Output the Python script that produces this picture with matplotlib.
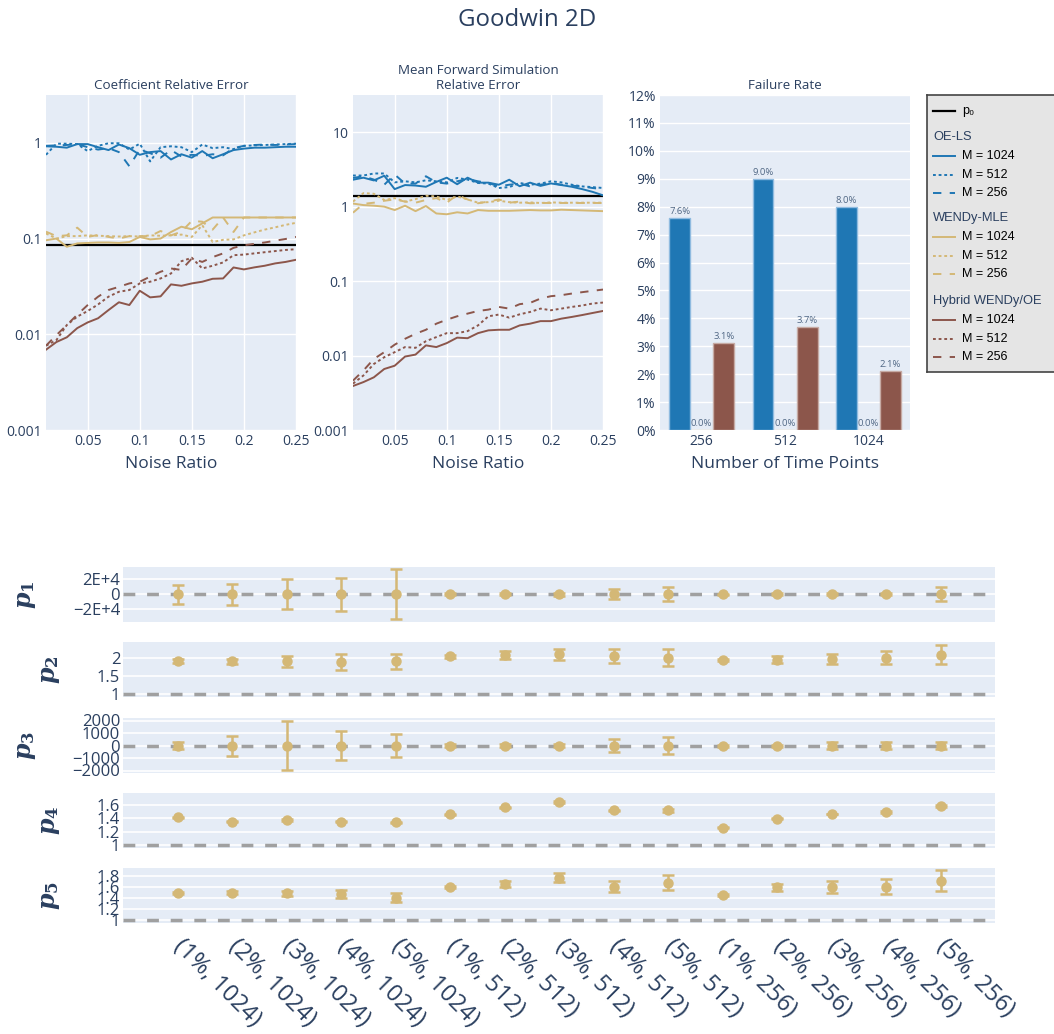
import matplotlib.pyplot as plt
import numpy as np
from matplotlib.ticker import NullLocator

plt.rcParams['font.family'] = ['Open Sans', 'DejaVu Sans']
plt.rcParams['mathtext.fontset'] = 'dejavuserif'

BG = '#e5ecf6'
TXT = '#2a3f5f'
BLUE = '#1f77b4'
GOLD = '#d4b876'
BROWN = '#8c564b'

noise = [0.01, 0.02, 0.03, 0.04, 0.05, 0.06, 0.07, 0.08, 0.09, 0.10, 0.11, 0.12, 0.13,
         0.14, 0.15, 0.16, 0.17, 0.18, 0.19, 0.20, 0.21, 0.22, 0.23, 0.24, 0.25]

# coefficient relative error
oe_coef_1024 = [0.92, 0.91, 0.89, 0.97, 0.97, 0.90, 0.84, 0.96, 0.88, 0.75, 0.80, 0.82, 0.67,
                0.76, 0.70, 0.82, 0.69, 0.76, 0.84, 0.87, 0.89, 0.89, 0.90, 0.91, 0.91]
oe_coef_512 = [0.75, 0.98, 0.98, 0.97, 0.82, 0.93, 0.99, 0.99, 0.85, 0.98, 0.64, 0.90, 0.92,
               0.90, 0.80, 0.96, 0.88, 0.90, 0.86, 0.93, 0.94, 0.95, 0.96, 0.97, 0.98]
oe_coef_256 = [0.93, 0.94, 0.95, 0.97, 0.90, 0.85, 0.88, 0.80, 0.57, 0.85, 0.78, 0.70, 0.84,
               0.72, 0.75, 0.73, 0.76, 0.74, 0.88, 0.93, 0.95, 0.96, 0.95, 0.96, 0.97]
wendy_coef_1024 = [0.096, 0.100, 0.082, 0.089, 0.090, 0.091, 0.091, 0.090, 0.092, 0.104, 0.098, 0.100, 0.117,
                   0.133, 0.125, 0.144, 0.166, 0.166, 0.166, 0.166, 0.166, 0.166, 0.166, 0.166, 0.166]
wendy_coef_512 = [0.113, 0.100, 0.106, 0.106, 0.108, 0.107, 0.106, 0.105, 0.106, 0.105, 0.108, 0.107, 0.108,
                  0.110, 0.104, 0.138, 0.092, 0.097, 0.098, 0.108, 0.116, 0.124, 0.131, 0.139, 0.146]
wendy_coef_256 = [0.118, 0.106, 0.108, 0.130, 0.104, 0.109, 0.104, 0.100, 0.106, 0.106, 0.106, 0.120, 0.108,
                  0.118, 0.153, 0.150, 0.124, 0.166, 0.117, 0.166, 0.166, 0.166, 0.166, 0.166, 0.166]
hyb_coef_1024 = [0.0069, 0.0083, 0.0093, 0.0116, 0.0133, 0.0147, 0.0179, 0.0216, 0.0202, 0.0285, 0.0243, 0.0249, 0.0332,
                 0.0321, 0.0340, 0.0354, 0.0380, 0.0383, 0.0499, 0.0476, 0.0500, 0.0520, 0.0550, 0.0570, 0.0600]
hyb_coef_512 = [0.0076, 0.0087, 0.0125, 0.0153, 0.0175, 0.0205, 0.0247, 0.0278, 0.0290, 0.0340, 0.0354, 0.0383, 0.0432,
                0.0580, 0.0630, 0.0487, 0.0520, 0.0563, 0.0670, 0.0680, 0.0700, 0.0720, 0.0740, 0.0760, 0.0774]
hyb_coef_256 = [0.0076, 0.0098, 0.0125, 0.0160, 0.0202, 0.0247, 0.0290, 0.0313, 0.0340, 0.0354, 0.0400, 0.0450, 0.0487,
                0.0470, 0.0620, 0.0570, 0.0640, 0.0700, 0.0800, 0.0850, 0.0880, 0.0910, 0.0950, 0.0990, 0.1040]
p0_coef = 0.085

# mean forward simulation relative error
oe_fwd_1024 = [2.30, 2.45, 2.25, 2.60, 1.72, 1.95, 1.92, 1.85, 2.15, 2.45, 2.00, 2.45, 2.10,
               2.10, 1.97, 2.30, 1.88, 2.10, 1.90, 2.05, 1.95, 1.85, 1.72, 1.58, 1.42]
oe_fwd_512 = [2.62, 2.62, 2.79, 2.79, 2.12, 2.19, 2.12, 2.26, 2.19, 2.12, 2.43, 2.31, 2.08,
              2.04, 1.78, 1.83, 2.08, 1.97, 2.04, 2.19, 2.12, 1.97, 1.87, 1.83, 1.78]
oe_fwd_256 = [2.43, 2.56, 2.31, 1.97, 2.70, 2.04, 2.04, 2.56, 2.12, 2.04, 2.19, 2.35, 2.19,
              2.08, 1.87, 1.97, 2.04, 1.87, 1.97, 2.08, 1.97, 1.91, 1.87, 1.78, 1.72]
wendy_fwd_1024 = [1.10, 1.05, 1.03, 1.00, 0.90, 1.03, 0.87, 1.02, 0.81, 0.79, 0.84, 0.81, 0.90,
                  0.88, 0.88, 0.88, 0.89, 0.90, 0.89, 0.89, 0.91, 0.90, 0.89, 0.88, 0.87]
wendy_fwd_512 = [1.17, 1.52, 1.49, 1.23, 1.30, 1.17, 1.26, 1.40, 1.37, 1.23, 1.37, 1.25, 1.13,
                 1.15, 1.20, 1.15, 1.13, 1.14, 1.12, 1.14, 1.13, 1.13, 1.13, 1.13, 1.13]
wendy_fwd_256 = [0.83, 1.09, 1.13, 1.20, 1.25, 1.17, 1.13, 1.23, 1.30, 1.13, 1.44, 1.25, 1.11,
                 1.17, 1.25, 1.13, 1.17, 1.11, 1.12, 1.12, 1.12, 1.12, 1.12, 1.12, 1.12]
hyb_fwd_1024 = [0.0039, 0.0044, 0.0051, 0.0066, 0.0073, 0.0097, 0.0103, 0.0137, 0.0130, 0.0147, 0.0174, 0.0171, 0.0200,
                0.0218, 0.0222, 0.0222, 0.0254, 0.0268, 0.0290, 0.0290, 0.0313, 0.0330, 0.0350, 0.0373, 0.0397]
hyb_fwd_512 = [0.0042, 0.0054, 0.0077, 0.0095, 0.0111, 0.0130, 0.0127, 0.0156, 0.0177, 0.0200, 0.0200, 0.0213, 0.0254,
               0.0337, 0.0355, 0.0323, 0.0358, 0.0385, 0.0427, 0.0406, 0.0427, 0.0450, 0.0470, 0.0500, 0.0515]
hyb_fwd_256 = [0.0046, 0.0063, 0.0090, 0.0111, 0.0140, 0.0168, 0.0196, 0.0222, 0.0268, 0.0303, 0.0337, 0.0366, 0.0397,
               0.0414, 0.0450, 0.0427, 0.0490, 0.0510, 0.0583, 0.0627, 0.0647, 0.0680, 0.0710, 0.0740, 0.0770]
p0_fwd = 1.37

# failure rate (%)
time_points = ['256', '512', '1024']
fail_oe = [7.6, 9.0, 8.0]
fail_wendy = [0.0, 0.0, 0.0]
fail_hybrid = [3.1, 3.7, 2.1]

# parameter estimates (WENDy-MLE), (noise, M)
cases = ['(1%, 1024)', '(2%, 1024)', '(3%, 1024)', '(4%, 1024)', '(5%, 1024)',
         '(1%, 512)', '(2%, 512)', '(3%, 512)', '(4%, 512)', '(5%, 512)',
         '(1%, 256)', '(2%, 256)', '(3%, 256)', '(4%, 256)', '(5%, 256)']
p_true = [0, 1, 0, 1, 1]
p1_mean = [0, 0, 0, 0, 0, 0, 0, 0, 0, 0, 0, 0, 0, 0, 0]
p1_err = [12500, 14000, 19500, 21800, 33000, 1000, 1000, 2000, 6600, 8900, 800, 1200, 1500, 1500, 9700]
p2_mean = [1.92, 1.90, 1.90, 1.88, 1.90, 2.04, 2.08, 2.10, 2.05, 2.00, 1.95, 1.95, 1.96, 2.00, 2.08]
p2_err = [0.05, 0.08, 0.15, 0.21, 0.21, 0.04, 0.10, 0.15, 0.19, 0.23, 0.03, 0.09, 0.14, 0.18, 0.26]
p3_mean = [0, 0, 0, 0, 0, 0, 0, 0, 0, 0, 0, 0, 0, 0, 0]
p3_err = [250, 800, 1970, 1160, 900, 100, 150, 150, 540, 700, 80, 80, 250, 250, 250]
p4_mean = [1.41, 1.35, 1.37, 1.346, 1.337, 1.454, 1.56, 1.64, 1.517, 1.517, 1.26, 1.39, 1.46, 1.49, 1.58]
p4_err = [0.01, 0.01, 0.01, 0.01, 0.01, 0.01, 0.01, 0.01, 0.01, 0.02, 0.005, 0.005, 0.005, 0.01, 0.02]
p5_mean = [1.49, 1.50, 1.485, 1.48, 1.41, 1.61, 1.655, 1.776, 1.61, 1.685, 1.45, 1.594, 1.61, 1.61, 1.715]
p5_err = [0.02, 0.03, 0.05, 0.075, 0.085, 0.02, 0.055, 0.09, 0.105, 0.135, 0.02, 0.065, 0.11, 0.14, 0.19]

DOT = (0, (1.45, 1.45))
DASH = (0, (4.3, 4.3))


def style(ax, size=10, pad=3):
    ax.set_facecolor(BG)
    for s in ax.spines.values():
        s.set_visible(False)
    ax.set_axisbelow(True)
    ax.tick_params(length=0, labelsize=size, colors=TXT, pad=pad)


fig = plt.figure(figsize=(10.54, 10.34), dpi=100)
W, H = 1054, 1034

fig.text(527 / W, 1 - 20 / H, 'Goodwin 2D', ha='center', va='center', fontsize=17.3, color=TXT)

# ---- top line panels
panels = [
    (46, 'Coefficient Relative Error', 3.16,
     [(oe_coef_1024, BLUE, '-'), (oe_coef_512, BLUE, DOT), (oe_coef_256, BLUE, DASH),
      (wendy_coef_1024, GOLD, '-'), (wendy_coef_512, GOLD, DOT), (wendy_coef_256, GOLD, DASH),
      (hyb_coef_1024, BROWN, '-'), (hyb_coef_512, BROWN, DOT), (hyb_coef_256, BROWN, DASH)],
     p0_coef, [0.001, 0.01, 0.1, 1], ['0.001', '0.01', '0.1', '1']),
    (353, 'Mean Forward Simulation\nRelative Error', 31.6,
     [(oe_fwd_1024, BLUE, '-'), (oe_fwd_512, BLUE, DOT), (oe_fwd_256, BLUE, DASH),
      (wendy_fwd_1024, GOLD, '-'), (wendy_fwd_512, GOLD, DOT), (wendy_fwd_256, GOLD, DASH),
      (hyb_fwd_1024, BROWN, '-'), (hyb_fwd_512, BROWN, DOT), (hyb_fwd_256, BROWN, DASH)],
     p0_fwd, [0.001, 0.01, 0.1, 1, 10], ['0.001', '0.01', '0.1', '1', '10']),
]
for left, title, top, series, p0, yt, ytl in panels:
    ax = fig.add_axes([left / W, 1 - 430 / H, 250 / W, 335 / H])
    style(ax)
    ax.grid(True, color='white', lw=1)
    ax.axhline(p0, color='black', lw=1.6, zorder=2)
    for vals, col, ls in series:
        ax.plot(noise, vals, color=col, ls=ls, lw=1.4, zorder=3)
    ax.set_yscale('log')
    ax.set_ylim(0.001, top)
    ax.set_yticks(yt)
    ax.set_yticklabels(ytl)
    ax.yaxis.set_minor_locator(NullLocator())
    ax.set_xlim(0.01, 0.25)
    ax.set_xticks([0.05, 0.1, 0.15, 0.2, 0.25])
    ax.set_xticklabels(['0.05', '0.1', '0.15', '0.2', '0.25'])
    ax.set_title(title, fontsize=9.6, color=TXT, pad=4, linespacing=1.2)
    ax.set_xlabel('Noise Ratio', fontsize=12.5, color=TXT, labelpad=5)

# ---- failure rate bars
ax3 = fig.add_axes([660 / W, 1 - 430 / H, 250 / W, 335 / H])
style(ax3)
ax3.grid(True, axis='y', color='white', lw=1)
xb = np.arange(len(time_points))
for off, vals, col, ecol in [(-0.265, fail_oe, BLUE, '#8fbbe0'),
                             (0.0, fail_wendy, GOLD, '#eadcb8'),
                             (0.265, fail_hybrid, BROWN, '#c6aaa4')]:
    bars = ax3.bar(xb + off, vals, 0.25, color=col, edgecolor=ecol, lw=1, zorder=3)
    ax3.bar_label(bars, labels=[f'{v:.1f}%' for v in vals], padding=1.5, fontsize=6.8, color='#506784')
ax3.set_xlim(-0.5, 2.5)
ax3.set_ylim(0, 12)
ax3.set_yticks(range(13))
ax3.set_yticklabels([f'{i}%' for i in range(13)])
ax3.set_xticks(xb)
ax3.set_xticklabels(time_points)
ax3.set_title('Failure Rate', fontsize=9.6, color=TXT, pad=4)
ax3.set_xlabel('Number of Time Points', fontsize=12.5, color=TXT, labelpad=5)

# ---- legend box
axl = fig.add_axes([927 / W, 1 - 372 / H, 130 / W, 277 / H])
axl.set_xlim(0, 130)
axl.set_ylim(277, 0)
axl.set_facecolor('#e5e5e5')
axl.set_xticks([])
axl.set_yticks([])
for s in axl.spines.values():
    s.set_color('#444444')
    s.set_linewidth(1.2)
LF = ['Liberation Sans', 'DejaVu Sans']
axl.plot([6, 28], [16, 16], color='black', lw=1.6)
axl.text(35, 16, 'p\u2080', fontsize=9, va='center', family=LF)
groups = [('OE-LS', BLUE, 42), ('WENDy-MLE', GOLD, 123), ('Hybrid WENDy/OE', BROWN, 206)]
for name, col, y in groups:
    axl.text(6, y, name, fontsize=9.3, color=TXT, va='center', family=LF)
    for k, (lab, ls) in enumerate([('M = 1024', '-'), ('M = 512', DOT), ('M = 256', DASH)]):
        yy = y + 19 + 18.7 * k
        axl.plot([6, 28], [yy, yy], color=col, ls=ls, lw=1.4)
        axl.text(35, yy, lab, fontsize=9, va='center', family=LF)

# ---- parameter panels
params = [
    (567, p1_mean, p1_err, (-37000, 36000), [-20000, 0, 20000], ['\u22122E+4', '0', '2E+4']),
    (642, p2_mean, p2_err, (0.93, 2.43), [1, 1.5, 2], ['1', '1.5', '2']),
    (718, p3_mean, p3_err, (-2200, 2200), [-2000, -1000, 0, 1000, 2000],
     ['\u22122000', '\u22121000', '0', '1000', '2000']),
    (793, p4_mean, p4_err, (0.96, 1.77), [1, 1.2, 1.4, 1.6], ['1', '1.2', '1.4', '1.6']),
    (868, p5_mean, p5_err, (0.945, 1.95), [1, 1.2, 1.4, 1.6, 1.8], ['1', '1.2', '1.4', '1.6', '1.8']),
]
xc = np.arange(len(cases))
for i, (top, m, e, lim, yt, ytl) in enumerate(params):
    ax = fig.add_axes([123 / W, 1 - (top + 55) / H, 872 / W, 55 / H])
    style(ax, size=12, pad=2)
    ax.grid(True, axis='y', color='white', lw=1.2)
    ax.axhline(p_true[i], color='#a0a0a0', lw=2.5, ls=(0, (3.4, 3.4)), zorder=2)
    ax.errorbar(xc, m, yerr=e, fmt='o', color=GOLD, ms=6.5, elinewidth=1.8,
                capsize=4.3, capthick=1.8, zorder=3)
    ax.set_xlim(-1, 15)
    ax.set_ylim(*lim)
    ax.set_yticks(yt)
    ax.set_yticklabels(ytl)
    ax.set_ylabel(r'$\mathbfit{p}_\mathbf{%d}$' % (i + 1), fontsize=17, color=TXT, labelpad=25)
    ax.set_xticks(xc)
    if i == 4:
        ax.set_xticklabels(cases, rotation=-45, ha='left', va='center', rotation_mode='anchor',
                           fontsize=17)
        ax.tick_params(axis='x', pad=14)
    else:
        ax.set_xticklabels([])

fig.savefig('out.png', dpi=100)
